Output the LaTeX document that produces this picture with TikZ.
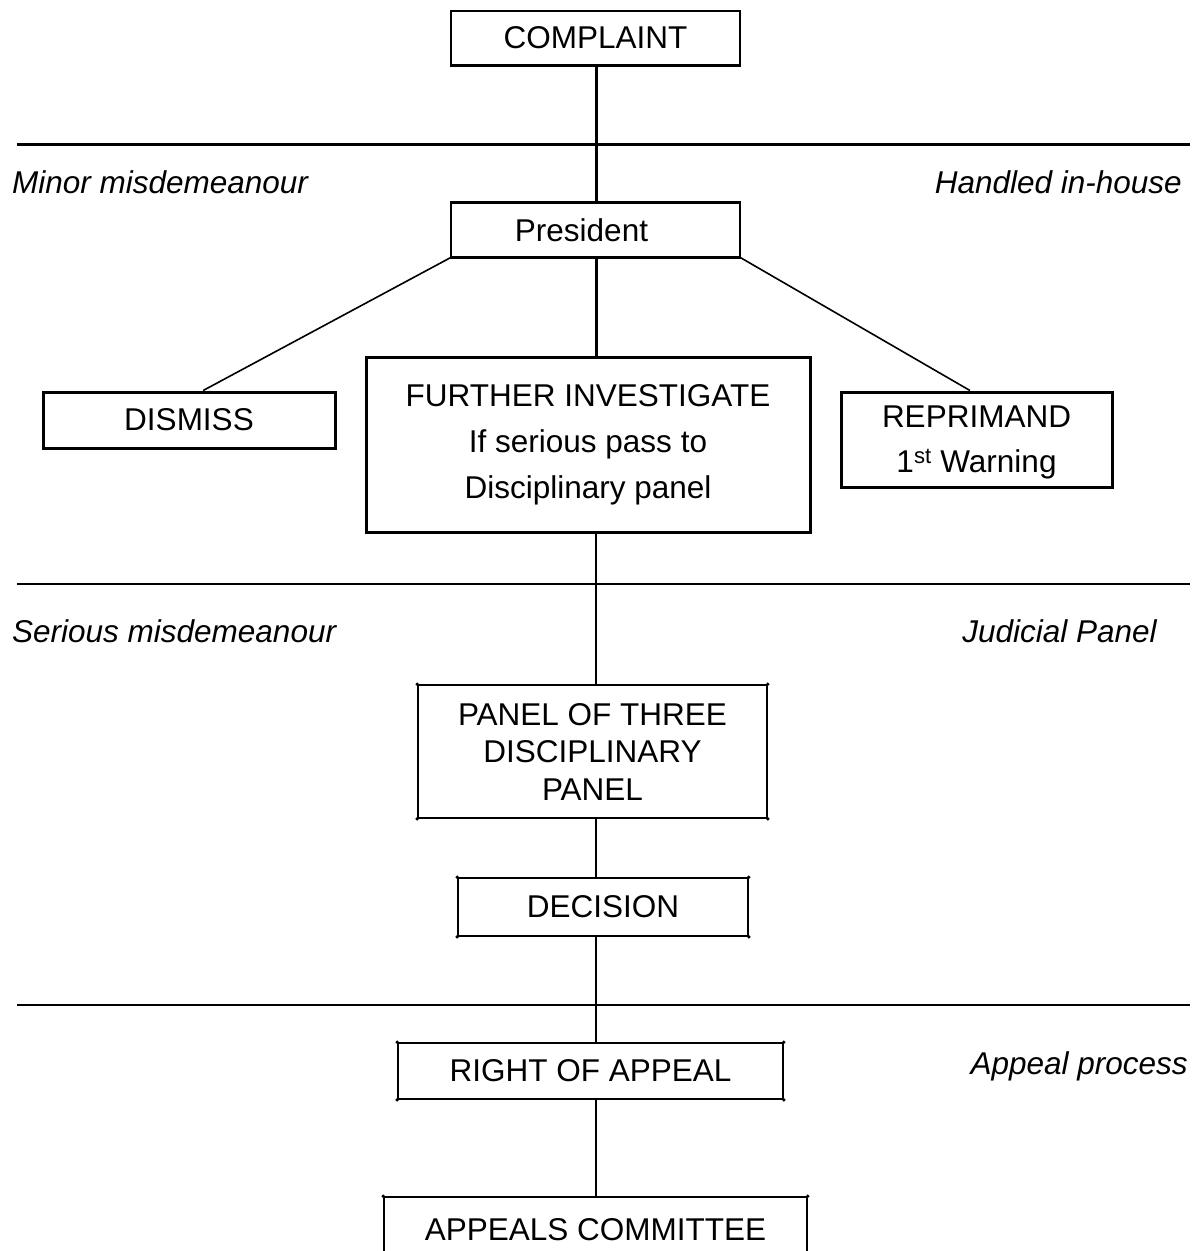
\documentclass[tikz,border=0pt]{standalone}
\usepackage{fontspec}
\setmainfont{Liberation Sans}
\usetikzlibrary{calc}
\begin{document}
\begin{tikzpicture}[x=1pt,y=-1pt,
  every node/.style={font=\fontsize{31.5}{38}\selectfont},
  thinbox/.style={draw, line width=1.6pt, inner sep=0pt, align=center},
  thickbox/.style={draw, line width=3pt, inner sep=0pt, align=center},
  sidelabel/.style={font=\fontsize{31.5}{38}\selectfont\itshape, inner sep=0pt},
  rule/.style={line width=1.6pt},
  thickrule/.style={line width=3pt},
  link/.style={line width=1.6pt},
  thicklink/.style={line width=3pt},
  cornerdot/.style={fill=black}]
\useasboundingbox (0,0) rectangle (1194,1251);
\clip (0,0) rectangle (1194,1251);

% section rules
\draw[thickrule] (17,144) -- (1190,144);
\draw[rule] (17,584) -- (1190,584);
\draw[rule] (17,1005) -- (1190,1005);

% side labels
\node[sidelabel, anchor=base west] (minor) at (12,193) {Minor misdemeanour};
\node[sidelabel, anchor=base east] (inhouse) at (1182,193) {Handled in-house};
\node[sidelabel, anchor=base west] (serious) at (12,642) {Serious misdemeanour};
\node[sidelabel, anchor=base east] (judicial) at (1157,642) {Judicial Panel};
\node[sidelabel, anchor=base east] (appealproc) at (1188,1074) {Appeal process};

% boxes
\node[thinbox, minimum width=289pt, minimum height=54pt] (complaint) at (595.5,38) {COMPLAINT};
\node[thinbox, minimum width=289pt, minimum height=54pt] (president) at (595.5,230) {President\hspace*{28pt}};
\node[thickbox, minimum width=292pt, minimum height=56pt] (dismiss) at (189,420) {DISMISS};
\node[thickbox, minimum width=444pt, minimum height=175pt, font=\fontsize{31.5}{46}\selectfont] (further) at (588,444.5)
  {FURTHER INVESTIGATE\\If serious pass to\\Disciplinary panel};
\node[thickbox, minimum width=271pt, minimum height=95pt, text depth=0pt, font=\fontsize{31.5}{45}\selectfont] (reprimand) at (976.5,439.5)
  {REPRIMAND\\1\textsuperscript{st} Warning};
\node[thinbox, minimum width=349pt, minimum height=133pt, font=\fontsize{31.5}{37.5}\selectfont] (panel) at (592.5,751.5)
  {PANEL OF THREE\\DISCIPLINARY\\PANEL};
\node[thinbox, minimum width=290pt, minimum height=58pt] (decision) at (603,907) {DECISION};
\node[thinbox, minimum width=385pt, minimum height=56pt] (roa) at (590.5,1071) {RIGHT OF APPEAL};
\node[thinbox, minimum width=423pt, minimum height=66pt] (appeals) at (595.5,1230) {APPEALS COMMITTEE};

% heavier edges
\draw[thicklink] (complaint.south west) -- (complaint.south east);
\draw[thicklink] (president.north west) -- (president.north east);
\draw[thicklink] (president.south west) -- (president.south east);

% small corner dots of the thin boxes
\foreach \b in {panel,decision,roa,appeals}{
  \foreach \c in {north west,north east,south west,south east}{
    \fill[cornerdot] (\b.\c) circle (1.9pt);
  }
}

% connectors
\coordinate (axis) at (596,0);
\draw[thicklink] (complaint.south -| axis) -- (president.north -| axis);
\draw[thicklink] (president.south -| axis) -- (further.north -| axis);
\draw[link] (president.south west) -- ($(dismiss.north west)!0.548!(dismiss.north east)$);
\draw[link] (president.south east) -- ($(reprimand.north west)!0.476!(reprimand.north east)$);
\draw[link] (further.south -| axis) -- (panel.north -| axis);
\draw[link] (panel.south -| axis) -- (decision.north -| axis);
\draw[link] (decision.south -| axis) -- (roa.north -| axis);
\draw[link] (roa.south -| axis) -- (appeals.north -| axis);
\end{tikzpicture}
\end{document}
